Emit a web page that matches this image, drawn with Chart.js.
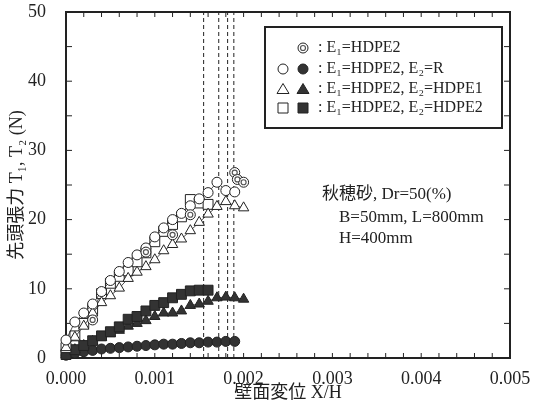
<!DOCTYPE html>
<html><head><meta charset="utf-8">
<script src="https://cdn.jsdelivr.net/npm/chart.js@4"></script>
<style>html,body{margin:0;padding:0;background:#fff}#wrap{width:534px;height:416px}</style>
</head><body><div id="wrap"><canvas id="c" width="534" height="416"></canvas></div>
<script>
// ---- data ----
const xGrid = [0,0.0001,0.0002,0.0003,0.0004,0.0005,0.0006,0.0007,0.0008,0.0009,0.0010,0.0011,0.0012,0.0013,0.0014,0.0015,0.0016,0.0017,0.0018,0.0019,0.0020];
const t1R  = [2.6,5.2,6.5,7.8,9.6,11.2,12.5,13.8,14.9,15.9,17.5,18.8,20.0,20.9,22.0,23.0,23.9,25.4,24.2,24.0];
const t2R  = [0.4,0.7,0.9,1.1,1.3,1.4,1.5,1.6,1.7,1.8,1.9,2.0,2.0,2.1,2.2,2.2,2.3,2.3,2.4,2.4];
const t1H1 = [1.5,3.0,4.6,6.5,8.0,9.0,10.1,11.5,12.4,13.2,14.2,15.5,16.4,17.2,18.4,19.6,20.8,21.9,22.6,22.0,21.7];
const t2H1 = [0.5,1.2,1.8,2.4,3.0,3.5,4.0,4.6,5.0,5.4,6.0,6.5,6.5,6.8,7.6,7.8,8.2,8.7,8.8,8.7,8.5];
const t1H2 = [1.5,3.2,5.0,7.0,9.3,10.8,11.8,12.6,13.9,15.2,16.8,18.3,19.3,20.4,22.9,22.4,22.2];
const t2H2 = [0.5,1.2,1.8,2.5,3.2,3.8,4.5,5.6,6.0,6.8,7.6,8.0,8.7,9.2,9.7,9.8,9.8];
const singleX = [0.0003,0.0009,0.0012,0.0014,0.0019,0.00193,0.0020];
const singleY = [5.5,15.3,17.8,20.7,26.8,25.8,25.4];
const failX = [0.00155,0.00172,0.00182,0.00189];
const xLabels = ['0.000','0.001','0.002','0.003','0.004','0.005'];
const yLabels = ['0','10','20','30','40','50'];

const SERIF = '"Liberation Serif","DejaVu Serif","Noto Sans CJK JP",serif';
const INK = '#222';

function pts(xs, ys){ return ys.map((y,i)=>({x:xs[i], y:y})); }

function series(label, ys, style, filled, radius, order){
  return {
    label, data: pts(xGrid, ys), showLine:true,
    borderColor: INK, borderWidth: 0.8,
    pointStyle: style, pointRadius: radius, pointHoverRadius: radius,
    pointBackgroundColor: filled ? '#333' : '#fff',
    pointBorderColor: INK, pointBorderWidth: 1,
    clip: false, order
  };
}

const datasets = [];
failX.forEach((fx,i)=>datasets.push({
  label:'fail'+i, data:[{x:fx,y:0},{x:fx,y:50}], showLine:true,
  borderColor:INK, borderWidth:1, borderDash:[4,3], pointRadius:0, clip:false, order:10
}));
datasets.push(series('T2 R', t2R, 'circle', true, 5, 8));
datasets.push(series('T2 HDPE1', t2H1, 'triangle', true, 6, 7));
datasets.push(series('T2 HDPE2', t2H2, 'rect', true, 7, 6));
datasets.push(series('T1 HDPE2', t1H2, 'rect', false, 7, 5));
datasets.push(series('T1 HDPE1', t1H1, 'triangle', false, 6, 4));
datasets.push(series('T1 R', t1R, 'circle', false, 5, 3));
datasets.push({label:'single outer', data:pts(singleX, singleY), showLine:false,
  pointStyle:'circle', pointRadius:5, pointBackgroundColor:'#fff', pointBorderColor:INK, pointBorderWidth:1, clip:false, order:2});
datasets.push({label:'single inner', data:pts(singleX, singleY), showLine:false,
  pointStyle:'circle', pointRadius:2.5, pointBackgroundColor:'#fff', pointBorderColor:'#555', pointBorderWidth:1.2, clip:false, order:1});

const framePlugin = {
  id:'frame',
  beforeDatasetsDraw(chart){
    const {ctx, chartArea:a, scales:{x,y}} = chart;
    ctx.save();
    ctx.strokeStyle = INK; ctx.lineWidth = 1;
    ctx.beginPath();
    for(let k=0;k<=25;k++){
      const px = x.getPixelForValue(k*0.0002);
      ctx.moveTo(px,a.bottom); ctx.lineTo(px,a.bottom-5);
      ctx.moveTo(px,a.top); ctx.lineTo(px,a.top+5);
    }
    for(let k=0;k<=10;k++){
      const py = y.getPixelForValue(k*5);
      ctx.moveTo(a.left,py); ctx.lineTo(a.left+6,py);
      ctx.moveTo(a.right,py); ctx.lineTo(a.right-6,py);
    }
    ctx.stroke();
    ctx.lineWidth = 2;
    ctx.strokeRect(a.left, a.top, a.right-a.left, a.bottom-a.top);
    ctx.restore();
  },
  afterDraw(chart){
    const ctx = chart.ctx;
    ctx.save();
    // legend box
    ctx.strokeStyle = INK; ctx.lineWidth = 2;
    ctx.fillStyle = '#fff';
    ctx.fillRect(265,27,237,101);
    ctx.strokeRect(265,27,237,101);
    const rows = [48,69,89,108];
    const drawSym = (type, filled, cx, cy) => {
      ctx.beginPath();
      if(type==='circle'){ ctx.arc(cx,cy,5,0,Math.PI*2); }
      else if(type==='tri'){ ctx.moveTo(cx,cy-5.5); ctx.lineTo(cx+6,cy+4.5); ctx.lineTo(cx-6,cy+4.5); ctx.closePath(); }
      else { ctx.rect(cx-5,cy-5,10,10); }
      ctx.fillStyle = filled ? '#333' : '#fff';
      ctx.fill();
      ctx.lineWidth = 1; ctx.strokeStyle = INK; ctx.stroke();
    };
    ctx.beginPath(); ctx.arc(303,rows[0],5,0,Math.PI*2); ctx.lineWidth=1; ctx.strokeStyle=INK; ctx.stroke();
    ctx.beginPath(); ctx.arc(303,rows[0],2.5,0,Math.PI*2); ctx.lineWidth=1.2; ctx.strokeStyle='#555'; ctx.stroke();
    drawSym('circle',false,283,rows[1]); drawSym('circle',true,303,rows[1]);
    drawSym('tri',false,283,rows[2]); drawSym('tri',true,303,rows[2]);
    drawSym('rect',false,283,rows[3]); drawSym('rect',true,303,rows[3]);
    ctx.fillStyle = INK;
    ctx.font = '16px ' + SERIF;
    ctx.textBaseline = 'middle'; ctx.textAlign = 'left';
    const texts = [': E₁=HDPE2', ': E₁=HDPE2, E₂=R', ': E₁=HDPE2, E₂=HDPE1', ': E₁=HDPE2, E₂=HDPE2'];
    texts.forEach((t,i)=>ctx.fillText(t, 318, rows[i]));
    ctx.font = '17px ' + SERIF;
    ctx.fillText('秋穂砂, Dr=50(%)', 322, 195);
    ctx.fillText('B=50mm, L=800mm', 339, 218);
    ctx.fillText('H=400mm', 339, 239);
    ctx.restore();
  }
};

new Chart(document.getElementById('c'), {
  type:'scatter',
  data:{datasets},
  options:{
    responsive:false, animation:false, devicePixelRatio:1,
    layout:{padding:{top:12,right:24,left:0,bottom:0}},
    plugins:{legend:{display:false}, tooltip:{enabled:false}},
    scales:{
      x:{
        type:'linear', min:0, max:0.005,
        grid:{display:false, drawTicks:false},
        border:{display:false},
        ticks:{stepSize:0.001, padding:10, color:INK, font:{family:SERIF, size:18},
          callback:(v)=>{ const i=Math.round(v/0.001); return Math.abs(v-i*0.001)<1e-9 ? xLabels[i] : ''; }},
        title:{display:true, text:'壁面変位 X/H', color:INK, font:{family:SERIF, size:18}, padding:{top:0,bottom:12}},
        afterFit:(s)=>{ s.height = 58; s.paddingLeft = 0; s.paddingRight = 0; }
      },
      y:{
        type:'linear', min:0, max:50,
        grid:{display:false, drawTicks:false},
        border:{display:false},
        ticks:{stepSize:10, padding:20, color:INK, font:{family:SERIF, size:18},
          callback:(v)=>{ const i=Math.round(v/10); return yLabels[i]; }},
        title:{display:true, text:'先頭張力 T₁, T₂ (N)', color:INK, font:{family:SERIF, size:18}, padding:{top:6,bottom:0}},
        afterFit:(s)=>{ s.width = 66; s.paddingTop = 0; s.paddingBottom = 0; }
      }
    }
  },
  plugins:[framePlugin]
});
</script>
</body></html>
